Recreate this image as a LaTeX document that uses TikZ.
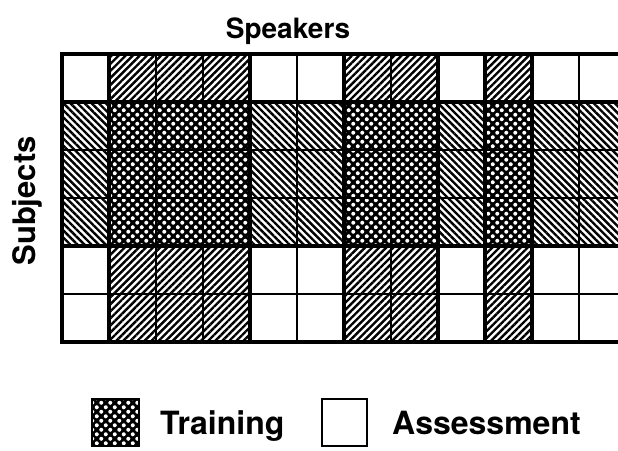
\documentclass[tikz,border=0pt]{standalone}
\usepackage{fontspec}
\setmainfont{TeX Gyre Heros}
\usetikzlibrary{patterns,patterns.meta}
\pgfdeclarepatternformonly{wdots}{\pgfqpoint{-1pt}{-1pt}}{\pgfqpoint{10pt}{10pt}}{\pgfqpoint{9pt}{9pt}}{%
  \pgfpathcircle{\pgfqpoint{2.25pt}{2.25pt}}{2pt}%
  \pgfpathcircle{\pgfqpoint{6.75pt}{6.75pt}}{2pt}%
  \pgfusepath{fill}}
\tikzset{
  nehatch/.style={pattern={Lines[angle=45,distance=5pt,line width=2.4pt]}},
  nwhatch/.style={pattern={Lines[angle=-45,distance=5pt,line width=2.4pt]}},
  dotfill/.style={fill=black,postaction={pattern=wdots,pattern color=white}},
  gridline/.style={line width=2pt},
  blockborder/.style={line width=3.2pt},
  lbl/.style={font=\bfseries\fontsize{28}{30}\selectfont, inner sep=0pt},
  sublbl/.style={font=\bfseries\fontsize{31}{33}\selectfont, inner sep=0pt},
  leglbl/.style={font=\bfseries\fontsize{32}{34}\selectfont, inner sep=0pt},
}
\begin{document}
\begin{tikzpicture}[x=1pt,y=-1pt]
\useasboundingbox (0,0) rectangle (618,450);
\fill[white] (0,0) rectangle (618,450);
\begin{scope}
\clip (0,0) rectangle (618,450);
% subject training rows
\fill[nwhatch] (62,102) rectangle (640,246);
% speaker training columns
\foreach \xa/\xb in {109/250,344/438,485/532}{
  \fill[nehatch] (\xa,54) rectangle (\xb,102);
  \fill[nehatch] (\xa,246) rectangle (\xb,342);
  \fill[dotfill] (\xa,102) rectangle (\xb,246);
}
% grid lines
\foreach \x in {109,156,...,579}{
  \draw[gridline] (\x,54) -- (\x,342);
}
\foreach \y in {102,150,...,294}{
  \draw[gridline] (62,\y) -- (640,\y);
}
% block borders
\draw[blockborder] (640,54) -- (62,54) -- (62,342) -- (640,342);
\draw[blockborder] (62,102) rectangle (640,246);
\foreach \xa/\xb in {109/250,344/438,485/532}{
  \draw[blockborder] (\xa,54) rectangle (\xb,342);
}
\end{scope}
% titles
\node[lbl, anchor=base] (speakers) at (288,38) {Speakers};
\node[sublbl, rotate=90, anchor=base] (subjects) at (35,201) {Subjects};
% legend
\draw[dotfill] (92,399) rectangle (139,446);
\draw[line width=2pt] (92,399) rectangle (139,446);
\node[leglbl, anchor=base west] (training) at (160,434) {Training};
\draw[line width=2pt] (322,399) rectangle (367,446);
\node[leglbl, anchor=base west] (assessment) at (392,434) {Assessment};
\end{tikzpicture}
\end{document}
